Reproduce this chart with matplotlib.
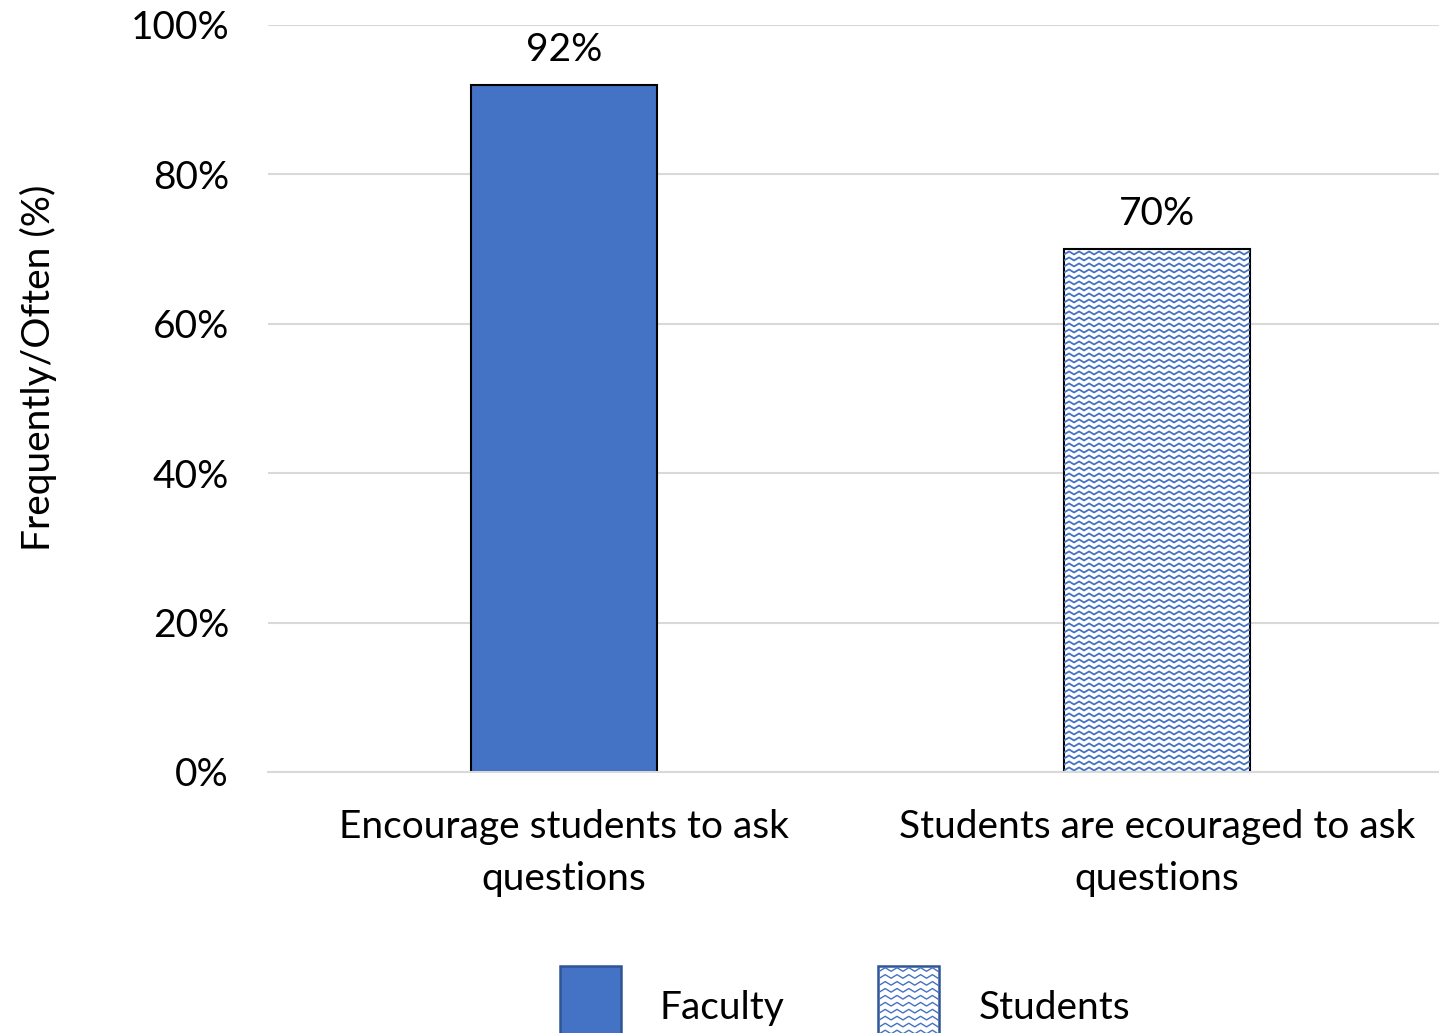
"""
Faculty vs students: how often students are encouraged to ask questions.
"""

import matplotlib

matplotlib.use("Agg")

import matplotlib.pyplot as plt
import numpy as np
from matplotlib.legend_handler import HandlerPatch
from matplotlib.lines import Line2D
from matplotlib.patches import Patch, Rectangle
from matplotlib.ticker import FuncFormatter


categories = ["Encourage students to ask\nquestions", "Students are ecouraged to ask\nquestions"]
series_names = ["Faculty", "Students"]
values = [92, 70]
y_ticks = [0, 20, 40, 60, 80, 100]
y_label = "Frequently/Often (%)"

BLUE = "#4472C4"
DARK_BLUE = "#2F5597"
GRID = "#D9D9D9"
FONT = "Lato"
FS = 28


def zigzag(x0, x1, y, period, amp):
    # triangle wave from x0 to x1 around the base line y
    n = int(np.ceil((x1 - x0) / (period / 2))) + 1
    xs = x0 + np.arange(n) * period / 2
    ys = y + np.where(np.arange(n) % 2 == 0, -amp / 2, amp / 2)
    return xs, ys


class WaveHandler(HandlerPatch):
    def create_artists(self, legend, orig_handle, xdescent, ydescent, width, height, fontsize, trans):
        x0, y0 = -xdescent, -ydescent
        rect = Rectangle((x0, y0), width, height, facecolor="white",
                         edgecolor=DARK_BLUE, lw=1.8, transform=trans)
        artists = [rect]
        y = y0 + 3.0
        while y < y0 + height - 2:
            xs, ys = zigzag(x0 + 1, x0 + width - 1, y, 8.5, 2.6)
            xs = np.clip(xs, x0 + 1, x0 + width - 1)
            artists.append(Line2D(xs, ys, color=BLUE, lw=1.0, transform=trans))
            y += 5.0
        return artists


def draw_wave_fill(ax, bar):
    # wave texture drawn inside the bar, clipped to it
    x0, x1 = bar.get_x(), bar.get_x() + bar.get_width()
    height = bar.get_height()
    to_px = ax.transData
    px_per_x = to_px.transform((1, 0))[0] - to_px.transform((0, 0))[0]
    px_per_y = abs(to_px.transform((0, 1))[1] - to_px.transform((0, 0))[1])
    period = 10 / px_per_x
    amp = 3.0 / px_per_y
    step = 6.0 / px_per_y
    y = step / 2
    while y < height:
        xs, ys = zigzag(x0, x1 + period, y, period, amp)
        line = Line2D(xs, ys, color=BLUE, lw=1.3, zorder=2.5)
        ax.add_line(line)
        line.set_clip_path(bar)
        y += step


def main():
    plt.rcParams["font.family"] = [FONT, "DejaVu Sans"]
    fig = plt.figure(figsize=(14.39, 10.33), dpi=100)
    ax = fig.add_axes([0.1862, 0.2527, 0.8138, 0.7231])

    x = np.arange(len(categories))
    bars = ax.bar(x, values, width=0.314, color=[BLUE, "white"],
                  edgecolor="black", linewidth=1.5, zorder=2)
    ax.set_xlim(-0.499, 1.475)
    ax.set_ylim(0, 100)

    draw_wave_fill(ax, bars[1])

    for xi, v in zip(x, values):
        ax.annotate(f"{v}%", (xi, v), xytext=(0, 12), textcoords="offset points",
                    ha="center", va="bottom", fontsize=FS)

    ax.set_yticks(y_ticks)
    ax.yaxis.set_major_formatter(FuncFormatter(lambda v, _: f"{v:.0f}%"))
    ax.set_xticks(x)
    ax.set_xticklabels(categories, linespacing=1.55)
    ax.tick_params(axis="both", length=0, labelsize=FS)
    ax.tick_params(axis="y", pad=28)
    ax.tick_params(axis="x", pad=27)
    ax.grid(axis="y", color=GRID, linewidth=1.5, zorder=0)
    ax.set_axisbelow(True)
    for side in ["top", "right", "left"]:
        ax.spines[side].set_visible(False)
    ax.spines["bottom"].set_color(GRID)
    ax.spines["bottom"].set_linewidth(1.5)

    ax.set_ylabel(y_label, fontsize=FS)
    ax.yaxis.set_label_coords(-0.180, 0.541)

    handles = [
        Patch(facecolor=BLUE, edgecolor=DARK_BLUE, linewidth=1.8, label=series_names[0]),
        Patch(facecolor="white", edgecolor=DARK_BLUE, label=series_names[1]),
    ]
    fig.legend(handles=handles, loc="upper center", bbox_to_anchor=(0.587, 0.0649),
               ncol=2, frameon=False, fontsize=FS, borderpad=0, borderaxespad=0,
               handlelength=1.58, handleheight=2.95, handletextpad=1.0, columnspacing=2.4,
               handler_map={handles[1]: WaveHandler()})

    fig.savefig("out.png", dpi=100)


if __name__ == "__main__":
    main()
